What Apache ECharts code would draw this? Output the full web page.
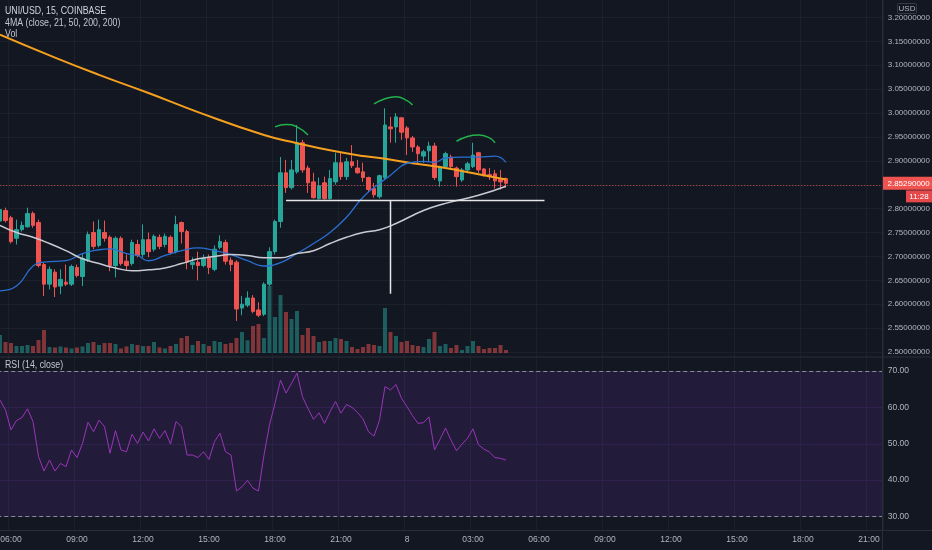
<!DOCTYPE html>
<html><head><meta charset="utf-8">
<script src="https://cdn.jsdelivr.net/npm/echarts@6/dist/echarts.min.js"></script>
<style>html,body{margin:0;padding:0;background:#131722;overflow:hidden}#c{width:932px;height:550px;}</style>
</head><body><div id="c"></div>
<script>
const FONT = "'Liberation Sans',Arial,sans-serif";

// time axis: 15-minute slots starting 05:30 on day 7
const slotCount = 161;
const startMinute = 5 * 60 + 30;
const tickLabels = ['06:00','09:00','12:00','15:00','18:00','21:00','8','03:00','06:00','09:00','12:00','15:00','18:00','21:00'];
const firstTick = 2, tickStep = 12;

const opens = [2.774,2.796,2.781,2.738,2.756,2.762,2.790,2.771,2.683,2.642, 2.667,2.638,2.646,2.642,2.677,2.658,2.692,2.750,2.723,2.750, 2.740,2.681,2.738,2.690,2.685,2.725,2.704,2.735,2.715,2.740, 2.725,2.740,2.710,2.771,2.752,2.683,2.688,2.681,2.698,2.673, 2.719,2.729,2.692,2.688,2.592,2.598,2.613,2.588,2.579,2.642, 2.710,2.773,2.875,2.844,2.877,2.938,2.885,2.856,2.821,2.854, 2.821,2.856,2.896,2.867,2.898,2.885,2.877,2.865,2.842,2.825, 2.865,2.971,2.971,2.990,2.969,2.948,2.929,2.910,2.921,2.931, 2.858,2.888,2.908,2.885,2.860,2.881,2.888,2.917,2.883,2.871, 2.873,2.861,2.863];
const closes = [2.798,2.775,2.731,2.756,2.765,2.790,2.765,2.681,2.642,2.673, 2.636,2.652,2.642,2.679,2.660,2.696,2.746,2.721,2.756,2.738, 2.681,2.738,2.685,2.681,2.729,2.702,2.735,2.710,2.742,2.721, 2.742,2.708,2.767,2.752,2.688,2.688,2.681,2.696,2.677,2.715, 2.731,2.690,2.683,2.590,2.600,2.613,2.585,2.577,2.642,2.710, 2.773,2.875,2.844,2.881,2.938,2.881,2.854,2.823,2.848,2.821, 2.863,2.896,2.867,2.898,2.890,2.875,2.865,2.840,2.829,2.869, 2.975,2.967,2.992,2.960,2.948,2.929,2.915,2.919,2.931,2.865, 2.888,2.915,2.888,2.867,2.881,2.894,2.912,2.881,2.869,2.867, 2.858,2.856,2.853];
const lows = [2.767,2.771,2.727,2.725,2.752,2.760,2.760,2.677,2.617,2.631, 2.615,2.621,2.638,2.638,2.656,2.638,2.688,2.715,2.719,2.731, 2.669,2.656,2.681,2.671,2.681,2.698,2.698,2.698,2.710,2.715, 2.719,2.704,2.706,2.727,2.673,2.673,2.650,2.677,2.663,2.669, 2.715,2.683,2.669,2.565,2.577,2.594,2.581,2.573,2.575,2.638, 2.704,2.760,2.833,2.840,2.873,2.875,2.833,2.821,2.819,2.819, 2.819,2.850,2.860,2.860,2.885,2.873,2.856,2.835,2.823,2.821, 2.860,2.938,2.938,2.944,2.912,2.919,2.896,2.896,2.898,2.860, 2.846,2.885,2.881,2.846,2.856,2.877,2.885,2.875,2.867,2.860, 2.842,2.840,2.844];
const highs = [2.804,2.802,2.785,2.777,2.773,2.802,2.794,2.777,2.688,2.679, 2.673,2.673,2.683,2.683,2.683,2.706,2.752,2.773,2.777,2.775, 2.744,2.742,2.742,2.704,2.735,2.735,2.767,2.750,2.746,2.746, 2.748,2.744,2.785,2.773,2.756,2.698,2.710,2.704,2.704,2.723, 2.744,2.735,2.698,2.692,2.617,2.627,2.619,2.604,2.646,2.719, 2.777,2.908,2.902,2.902,2.975,2.944,2.890,2.875,2.865,2.867, 2.881,2.917,2.917,2.906,2.933,2.902,2.896,2.867,2.854,2.871, 3.010,2.992,3.000,2.992,2.973,2.952,2.933,2.923,2.940,2.938, 2.890,2.919,2.913,2.888,2.885,2.898,2.938,2.919,2.885,2.885, 2.881,2.881,2.865];
const volumes = [18,11,10,7,7,8,7,13,23,6, 5.5,6.5,5.5,4.5,5.5,6.5,10,11,8,10, 10,9,4.5,6.5,9,8,7,7,11,5.5, 4.5,7,9,15,17,8,12,9,7,12, 11,9,10,15,21,12.7,27,29,15,67, 36,58,41,34,42,18,25,17,11,12, 12,15,14,12,6,4,6,9,8,7, 45,21,17,11,12,8,7,6,14,21, 7,9,5,8,3,7,12,7,4,5, 5,8,3];
const rsiValues = [62.0,59.3,53.8,56.4,57.2,59.6,56.1,46.5,42.5,45.5, 42.5,44.6,43.7,48.3,46.2,50.1,55.9,53.3,56.5,54.7, 47.4,53.6,48.3,47.8,52.6,50.1,53.2,50.8,54.1,51.5, 53.6,49.9,56.1,54.7,46.9,46.9,46.2,47.8,45.7,50.6, 52.9,47.8,46.9,37.0,38.2,39.9,37.8,37.0,46.9,55.2, 61.1,67.5,63.9,66.6,69.4,62.9,59.7,56.7,58.5,55.6, 58.8,61.6,58.4,60.8,60.0,58.6,56.8,53.3,52.1,56.5, 65.7,64.8,66.3,62.5,60.2,57.7,55.6,55.8,57.4,48.3, 51.2,54.3,51.0,48.1,49.9,51.5,54.1,49.7,48.5,47.7, 46.2,46.0,45.5];

// moving averages: [slot index, price]
const ma21Points = [[0,2.628],[3,2.638],[6,2.680],[8,2.688],[12,2.691],[15,2.706],[18,2.714],[20,2.716],[23,2.706],[25,2.702],[27,2.691],[30,2.702],[33,2.712],[36,2.718],[39,2.712],[42,2.704],[45,2.691],[48,2.680],[51,2.687],[54,2.706],[57,2.727],[60,2.750],[63,2.782],[66,2.824],[69,2.853],[71,2.870],[72,2.880],[74,2.895],[77,2.899],[79,2.897],[81,2.906],[84,2.908],[87,2.908],[90,2.910],[92,2.897]];
const ma50Points = [[0,2.765],[3,2.750],[6,2.740],[9,2.727],[12,2.712],[15,2.695],[18,2.685],[21,2.676],[24,2.670],[27,2.672],[30,2.676],[33,2.685],[36,2.695],[39,2.700],[42,2.704],[45,2.702],[48,2.697],[51,2.697],[54,2.706],[57,2.712],[60,2.727],[63,2.740],[66,2.750],[69,2.756],[72,2.769],[77,2.796],[81,2.811],[87,2.828],[92,2.847]];
const ma200Points = [[0,3.164],[10,3.116],[18,3.080],[27,3.042],[36,3.002],[48,2.954],[54,2.937],[60,2.922],[66,2.910],[69,2.906],[75,2.895],[81,2.885],[87,2.872],[92,2.861]];

// drawings on the chart
const necklinePoints = [[52,2.817],[99,2.817]];
const targetPoints = [[71,2.817],[71,2.622]];
const leftArc = [[50,2.971],[52,2.976],[54,2.971],[56,2.954]];
const headArc = [[68,3.019],[70,3.030],[72,3.034],[74,3.026],[75,3.017]];
const rightArc = [[83,2.941],[85,2.951],[87,2.954],[89,2.948],[90,2.938]];

const lastPrice = 2.8529;
const lastPriceText = '2.85290000';
const countdownText = '11:28';

function pad(n){return (n<10?'0':'')+n;}
const categories = [];
for (let i = 0; i < slotCount; i++) {
  const m = startMinute + 15 * i;
  categories.push('d' + (7 + Math.floor(m / 1440)) + ' ' + pad(Math.floor((m % 1440) / 60)) + ':' + pad(m % 60));
}
const isTick = (idx) => idx >= firstTick && (idx - firstTick) % tickStep === 0;

const UP = '#26a69a', DOWN = '#ef5350';
const candleData = opens.map((o, i) => [o, closes[i], lows[i], highs[i]]);
const volData = volumes.map((v, i) => ({
  value: v,
  itemStyle: { color: closes[i] >= opens[i] ? 'rgba(38,166,154,0.5)' : 'rgba(239,83,80,0.5)' }
}));

const L = -2.75, W = 885.5;
const txt = '#b2b5be';
const FS = 8;
const hidden = { show: false };
function xAx(gi, extra) {
  return Object.assign({
    type: 'category', gridIndex: gi, data: categories, boundaryGap: true,
    axisLine: hidden, axisTick: hidden, axisLabel: hidden, splitLine: hidden
  }, extra || {});
}
function g(top, height) {
  return { left: L, top: top, width: W, height: height, containLabel: false, outerBoundsMode: 'none' };
}

const chart = echarts.init(document.getElementById('c'), null, { renderer: 'canvas' });
const option = {
  backgroundColor: '#131722',
  animation: false,
  textStyle: { fontFamily: FONT },
  grid: [ g(17.5, 334.5), g(273, 80), g(371, 145.5), g(0, 530) ],
  xAxis: [
    xAx(0), xAx(1),
    xAx(2, { axisLabel: { show: true, interval: (idx) => isTick(idx), formatter: (v, idx) => tickLabels[(idx - firstTick) / tickStep], color: txt, fontSize: 8.5, fontFamily: FONT, margin: 19 } }),
    xAx(3, { splitLine: { show: true, interval: (idx) => isTick(idx), lineStyle: { color: '#1c202b', width: 1 } } })
  ],
  yAxis: [
    { type: 'value', gridIndex: 0, position: 'right', min: 2.5, max: 3.2, interval: 0.05,
      axisLine: hidden, axisTick: hidden,
      axisLabel: { color: txt, fontSize: FS, fontFamily: FONT, margin: 5, formatter: (v) => v.toFixed(8) },
      splitLine: { lineStyle: { color: '#1c202b', width: 1 } } },
    { type: 'value', gridIndex: 1, min: 0, max: 80, show: false },
    { type: 'value', gridIndex: 2, position: 'right', min: 30, max: 70, interval: 10,
      axisLine: hidden, axisTick: hidden,
      axisLabel: { color: txt, fontSize: 8.5, fontFamily: FONT, margin: 5, formatter: (v) => v.toFixed(2) },
      splitLine: { lineStyle: { color: '#241d3a', width: 1 } } },
    { type: 'value', gridIndex: 3, show: false }
  ],
  series: [
    { type: 'candlestick', xAxisIndex: 0, yAxisIndex: 0, data: candleData, barWidth: '68%', z: 3,
      itemStyle: { color: UP, color0: DOWN, borderColor: UP, borderColor0: DOWN, borderWidth: 1 },
      markLine: { silent: true, symbol: ['none','none'], label: hidden,
        lineStyle: { color: '#ef5350', type: [1, 2], width: 1, opacity: 0.9 },
        data: [{ yAxis: lastPrice }] } },
    { type: 'line', name: 'MA200', xAxisIndex: 0, yAxisIndex: 0, data: ma200Points, smooth: true, showSymbol: false, z: 4,
      lineStyle: { color: '#f59f1f', width: 2 } },
    { type: 'line', name: 'MA21', xAxisIndex: 0, yAxisIndex: 0, data: ma21Points, smooth: true, showSymbol: false, z: 4,
      lineStyle: { color: '#2a6fd1', width: 1.3 } },
    { type: 'line', name: 'MA50', xAxisIndex: 0, yAxisIndex: 0, data: ma50Points, smooth: true, showSymbol: false, z: 4,
      lineStyle: { color: '#c8cbd3', width: 1.5 } },
    { type: 'line', xAxisIndex: 0, yAxisIndex: 0, data: necklinePoints, showSymbol: false, z: 5,
      lineStyle: { color: '#e6e6e6', width: 1.5 } },
    { type: 'line', xAxisIndex: 0, yAxisIndex: 0, data: targetPoints, showSymbol: false, z: 5,
      lineStyle: { color: '#e6e6e6', width: 1.5 } },
    { type: 'line', xAxisIndex: 0, yAxisIndex: 0, data: leftArc, smooth: true, showSymbol: false, z: 5,
      lineStyle: { color: '#22b14c', width: 1.5 } },
    { type: 'line', xAxisIndex: 0, yAxisIndex: 0, data: headArc, smooth: true, showSymbol: false, z: 5,
      lineStyle: { color: '#22b14c', width: 1.5 } },
    { type: 'line', xAxisIndex: 0, yAxisIndex: 0, data: rightArc, smooth: true, showSymbol: false, z: 5,
      lineStyle: { color: '#22b14c', width: 1.5 } },
    { type: 'bar', xAxisIndex: 1, yAxisIndex: 1, data: volData, barWidth: '72%', z: 1 },
    { type: 'line', xAxisIndex: 2, yAxisIndex: 2, data: rsiValues, showSymbol: false, z: 4,
      lineStyle: { color: '#9a35b8', width: 1 },
      markArea: { silent: true, itemStyle: { color: 'rgba(120,60,200,0.15)' }, data: [[{ yAxis: 30 }, { yAxis: 70 }]] },
      markLine: { silent: true, symbol: ['none','none'], label: hidden,
        lineStyle: { color: '#8a8d98', type: [4, 3], width: 1 },
        data: [{ yAxis: 70 }, { yAxis: 30 }] } }
  ]
};
chart.setOption(option);

const py = chart.convertToPixel({ yAxisIndex: 0 }, lastPrice);
const sep = '#2a2e39';
function label(text, x, y, fill) {
  return { type: 'text', x: x, y: y, scaleX: 0.88, scaleY: 1, z: 10,
    style: { text: text, fill: fill, font: '10px ' + FONT, verticalAlign: 'middle' } };
}
chart.setOption({
  graphic: [
    { type: 'line', shape: { x1: 0, y1: 357, x2: 932, y2: 357 }, style: { stroke: sep, lineWidth: 1 }, z: 10 },
    { type: 'line', shape: { x1: 0, y1: 530.5, x2: 932, y2: 530.5 }, style: { stroke: sep, lineWidth: 1 }, z: 10 },
    { type: 'line', shape: { x1: 882.5, y1: 0, x2: 882.5, y2: 550 }, style: { stroke: sep, lineWidth: 1 }, z: 10 },
    label('UNI/USD, 15, COINBASE', 5, 11.5, '#d1d4dc'),
    label('4MA (close, 21, 50, 200, 200)', 5, 23, '#c3c6ce'),
    label('Vol', 5, 34, '#c3c6ce'),
    label('RSI (14, close)', 5, 365, '#c3c6ce'),
    { type: 'rect', shape: { x: 897.5, y: 3.5, width: 19, height: 10, r: 1 }, style: { fill: '#131722', stroke: '#363a45', lineWidth: 1 }, z: 11 },
    { type: 'text', x: 907, y: 8.5, style: { text: 'USD', fill: txt, font: '8px ' + FONT, align: 'center', verticalAlign: 'middle' }, z: 12 },
    { type: 'rect', shape: { x: 883, y: py - 6.5, width: 49, height: 13 }, style: { fill: '#ef5350' }, z: 11 },
    { type: 'text', x: 887.5, y: py, style: { text: lastPriceText, fill: '#ffffff', font: FS + 'px ' + FONT, verticalAlign: 'middle' }, z: 12 },
    { type: 'rect', shape: { x: 906, y: py + 7, width: 26, height: 12 }, style: { fill: '#e5484a' }, z: 11 },
    { type: 'text', x: 919, y: py + 13, style: { text: countdownText, fill: '#ffffff', font: FS + 'px ' + FONT, align: 'center', verticalAlign: 'middle' }, z: 12 }
  ]
});
</script></body></html>
